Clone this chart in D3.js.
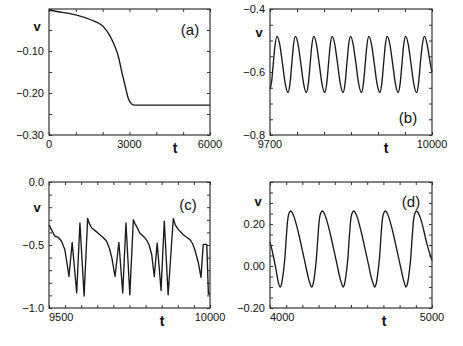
<!DOCTYPE html>
<html>
<head>
<meta charset="utf-8">
<script src="https://cdn.jsdelivr.net/npm/d3@7"></script>
<style>
  html, body { margin: 0; padding: 0; background: #fff; }
  svg { display: block; }
  text { font-family: "Liberation Sans", Arial, Helvetica, sans-serif; fill: #111; }
</style>
</head>
<body>
<svg id="chart" width="463" height="346"></svg>
<script>
// ---------------- DATA ----------------
// Panel (a)
const aT = [0, 500, 1030, 1530, 2025, 2270, 2460, 2585, 2710, 2830, 2955, 3080, 3205, 3400, 6000];
const aV = [-0.003, -0.008, -0.0145, -0.025, -0.042, -0.064, -0.090, -0.113, -0.149, -0.181, -0.213, -0.226, -0.229, -0.229, -0.229];
const aXTicks = [0, 1000, 2000, 3000, 4000, 5000, 6000];
const aXLabels = [0, 3000, 6000];
const aYTicks = [0, -0.05, -0.10, -0.15, -0.20, -0.25, -0.30];
const aYLabels = [-0.10, -0.20, -0.30];

// Panel (b)
const bT = [9700, 9703, 9706, 9709, 9713,
  9718, 9723, 9728, 9733.5, 9737, 9740.5, 9743.5, 9747,
  9752, 9757, 9762, 9767.5, 9771, 9774.5, 9777.5, 9781,
  9786, 9791, 9796, 9801.5, 9805, 9808.5, 9811.5, 9815,
  9820, 9825, 9830, 9835.5, 9839, 9842.5, 9845.5, 9849,
  9854, 9859, 9864, 9869.5, 9873, 9876.5, 9879.5, 9883,
  9888, 9893, 9898, 9903.5, 9907, 9910.5, 9913.5, 9917,
  9922, 9927, 9932, 9937.5, 9941, 9944.5, 9947.5, 9951,
  9956, 9961, 9966, 9971.5, 9975, 9978.5, 9982, 9986,
  9991, 9996, 10000];
const bV = [-0.655, -0.63, -0.575, -0.52, -0.487,
  -0.512, -0.572, -0.635, -0.665, -0.637, -0.571, -0.515, -0.487,
  -0.512, -0.572, -0.635, -0.665, -0.637, -0.571, -0.515, -0.487,
  -0.512, -0.572, -0.635, -0.665, -0.637, -0.571, -0.515, -0.487,
  -0.512, -0.572, -0.635, -0.665, -0.637, -0.571, -0.515, -0.487,
  -0.512, -0.572, -0.635, -0.665, -0.637, -0.571, -0.515, -0.487,
  -0.512, -0.572, -0.635, -0.665, -0.637, -0.571, -0.515, -0.487,
  -0.512, -0.572, -0.635, -0.665, -0.637, -0.571, -0.515, -0.487,
  -0.512, -0.572, -0.635, -0.665, -0.637, -0.571, -0.515, -0.487,
  -0.512, -0.565, -0.60];
const bXTicks = [9700, 9750, 9800, 9850, 9900, 9950, 10000];
const bXLabels = [9700, 10000];
const bYTicks = [-0.40, -0.45, -0.50, -0.55, -0.60, -0.65, -0.70, -0.75, -0.80];
const bYLabels = [-0.4, -0.6, -0.8];

// Panel (c)
const cT = [9500, 9510, 9518, 9529, 9539, 9549, 9555, 9562, 9572, 9586, 9596, 9609, 9620,
  9626, 9633, 9645, 9658, 9668, 9679, 9688, 9695, 9705, 9717, 9729, 9739, 9751, 9762,
  9767, 9772, 9782, 9798, 9805, 9811, 9819, 9827, 9836, 9848, 9858, 9870, 9886,
  9892, 9902, 9917, 9938, 9946, 9953, 9964, 9972, 9979, 9990, 9995, 10000];
const cV = [-0.34, -0.39, -0.43, -0.44, -0.47, -0.535, -0.63, -0.75, -0.48, -0.88, -0.325, -0.905, -0.29,
  -0.335, -0.365, -0.39, -0.418, -0.44, -0.47, -0.53, -0.60, -0.75, -0.48, -0.88, -0.325, -0.895, -0.30,
  -0.33, -0.352, -0.405, -0.444, -0.47, -0.50, -0.577, -0.75, -0.485, -0.86, -0.31, -0.895, -0.29,
  -0.34, -0.378, -0.418, -0.458, -0.49, -0.537, -0.643, -0.757, -0.495, -0.495, -0.89, -0.88];
const cXTicks = [9500, 9550, 9600, 9650, 9700, 9750, 9800, 9850, 9900, 9950, 10000];
const cXLabels = [9500, 10000];
const cYTicks = [0, -0.1, -0.2, -0.3, -0.4, -0.5, -0.6, -0.7, -0.8, -0.9, -1.0];
const cYLabels = [0.0, -0.5, -1.0];

// Panel (d)
const dT = [4000, 4020, 4040, 4052, 4062, 4074, 4084, 4092, 4100, 4108, 4117, 4128,
  4143, 4158, 4178, 4198, 4218, 4238, 4250, 4257, 4269, 4279, 4287, 4295, 4303, 4312, 4323,
  4338, 4353, 4373, 4393, 4413, 4433, 4445, 4451, 4463, 4473, 4481, 4489, 4497, 4506, 4517,
  4532, 4547, 4567, 4587, 4607, 4627, 4640, 4646, 4658, 4668, 4676, 4684, 4692, 4701, 4712,
  4727, 4742, 4762, 4782, 4802, 4822, 4833, 4839, 4851, 4861, 4869, 4877, 4885, 4894, 4905,
  4920, 4936, 4967, 5000];
const dV = [0.115, 0.05, -0.03, -0.08, -0.10, -0.075, -0.02, 0.04, 0.13, 0.21, 0.25, 0.262,
  0.245, 0.21, 0.15, 0.08, 0.01, -0.06, -0.09, -0.10, -0.075, -0.02, 0.04, 0.13, 0.21, 0.25, 0.262,
  0.245, 0.21, 0.15, 0.08, 0.01, -0.06, -0.09, -0.10, -0.075, -0.02, 0.04, 0.13, 0.21, 0.25, 0.262,
  0.245, 0.21, 0.15, 0.08, 0.01, -0.06, -0.09, -0.10, -0.075, -0.02, 0.04, 0.13, 0.21, 0.25, 0.262,
  0.245, 0.21, 0.15, 0.08, 0.01, -0.06, -0.09, -0.10, -0.075, -0.02, 0.04, 0.13, 0.21, 0.25, 0.262,
  0.245, 0.21, 0.11, 0.025];
const dXTicks = [4000, 4100, 4200, 4300, 4400, 4500, 4600, 4700, 4800, 4900, 5000];
const dXLabels = [4000, 5000];
const dYTicks = [0.40, 0.35, 0.30, 0.25, 0.20, 0.15, 0.10, 0.05, 0.00, -0.05, -0.10, -0.15, -0.20];
const dYLabels = [0.20, 0.00, -0.20];

// ---------------- LAYOUT ----------------
const panels = [
  { id: "(a)", t: aT, v: aV, xDom: [0, 6000], yDom: [-0.30, 0.0],
    xTicks: aXTicks, xLabels: aXLabels, yTicks: aYTicks, yLabels: aYLabels, yFmt: ".2f",
    box: [49, 9, 210, 135], firstAnchor: "middle", curve: d3.curveMonotoneX,
    tPos: [175, 153], vPos: [37, 31], idPos: [190, 35] },
  { id: "(b)", t: bT, v: bV, xDom: [9700, 10000], yDom: [-0.8, -0.4],
    xTicks: bXTicks, xLabels: bXLabels, yTicks: bYTicks, yLabels: bYLabels, yFmt: ".1f",
    box: [270, 9, 432, 135], firstAnchor: "middle", curve: d3.curveMonotoneX,
    tPos: [386, 153], vPos: [259, 37], idPos: [408, 123] },
  { id: "(c)", t: cT, v: cV, xDom: [9500, 10000], yDom: [-1.0, 0.0],
    xTicks: cXTicks, xLabels: cXLabels, yTicks: cYTicks, yLabels: cYLabels, yFmt: ".1f",
    box: [49, 182, 210, 308], firstAnchor: "start", curve: d3.curveLinear,
    tPos: [162, 326], vPos: [37, 212], idPos: [188, 210] },
  { id: "(d)", t: dT, v: dV, xDom: [4000, 5000], yDom: [-0.20, 0.40],
    xTicks: dXTicks, xLabels: dXLabels, yTicks: dYTicks, yLabels: dYLabels, yFmt: ".2f",
    box: [270, 182, 432, 308], firstAnchor: "start", curve: d3.curveMonotoneX,
    tPos: [384, 326], vPos: [258, 206], idPos: [411, 207] }
];

const svg = d3.select("#chart");
const fmtNum = (f) => (d) => d3.format(f)(d).replace("-", "\u2212");

panels.forEach((p) => {
  const [x0, y0, x1, y1] = p.box;
  const x = d3.scaleLinear().domain(p.xDom).range([x0, x1]);
  const y = d3.scaleLinear().domain(p.yDom).range([y1, y0]);
  const g = svg.append("g");

  // inward ticks on all four sides
  const tick = 3;
  const axes = [
    [d3.axisBottom(x).tickValues(p.xTicks), `translate(0,${y1})`],
    [d3.axisTop(x).tickValues(p.xTicks), `translate(0,${y0})`],
    [d3.axisLeft(y).tickValues(p.yTicks), `translate(${x0},0)`],
    [d3.axisRight(y).tickValues(p.yTicks), `translate(${x1},0)`]
  ];
  axes.forEach(([ax, tr]) => {
    const ag = g.append("g").attr("transform", tr)
      .call(ax.tickSizeInner(-tick).tickSizeOuter(0).tickFormat(""));
    ag.select(".domain").remove();
    ag.selectAll("line").attr("stroke", "#333").attr("stroke-width", 1);
  });

  // curve
  const line = d3.line().x((d, i) => x(p.t[i])).y((d, i) => y(p.v[i])).curve(p.curve);
  g.append("path").datum(p.t).attr("d", line)
    .attr("fill", "none").attr("stroke", "#1a1a1a").attr("stroke-width", 1.35)
    .attr("stroke-linejoin", "round");

  // frame
  g.append("rect").attr("x", x0).attr("y", y0).attr("width", x1 - x0).attr("height", y1 - y0)
    .attr("fill", "none").attr("stroke", "#333").attr("stroke-width", 1.2);

  // y tick labels
  g.selectAll(".ylab").data(p.yLabels).enter().append("text")
    .attr("x", x0 - 5).attr("y", (d) => y(d)).attr("dy", "0.35em")
    .attr("text-anchor", "end").attr("font-size", 11)
    .text(fmtNum(p.yFmt));

  // x tick labels
  g.selectAll(".xlab").data(p.xLabels).enter().append("text")
    .attr("x", (d) => x(d)).attr("y", y1 + 13)
    .attr("text-anchor", (d, i) => (i === 0 ? p.firstAnchor : "middle"))
    .attr("font-size", 11)
    .text((d) => String(d));

  // axis names and panel id
  g.append("text").attr("x", p.tPos[0]).attr("y", p.tPos[1]).attr("text-anchor", "middle")
    .attr("font-size", 14).attr("font-weight", "bold").text("t");
  g.append("text").attr("x", p.vPos[0]).attr("y", p.vPos[1]).attr("text-anchor", "middle")
    .attr("font-size", 13).attr("font-weight", "bold").text("v");
  g.append("text").attr("x", p.idPos[0]).attr("y", p.idPos[1]).attr("text-anchor", "middle")
    .attr("font-size", 15).text(p.id);
});
</script>
</body>
</html>
